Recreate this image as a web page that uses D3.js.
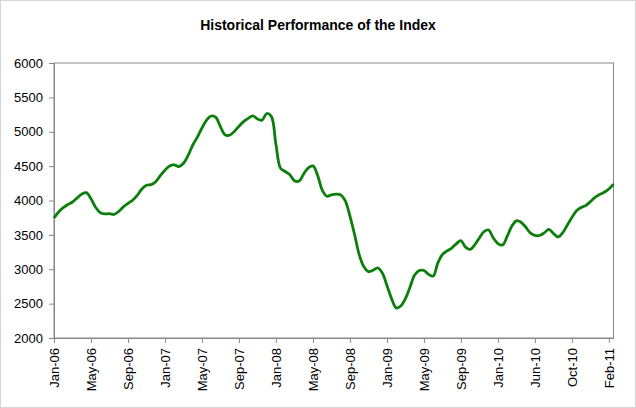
<!DOCTYPE html>
<html>
<head>
<meta charset="utf-8">
<title>Historical Performance of the Index</title>
<script src="https://cdn.jsdelivr.net/npm/d3@7/dist/d3.min.js"></script>
<style>
    body { margin: 0; background: #fff; }
    text { font-family: "Liberation Sans", Arial, sans-serif; fill: #000; }
    .title { font-size: 14px; font-weight: bold; }
    .tick text { font-size: 13px; }
    .axis path, .axis line { stroke: #888; }
</style>
</head>
<body>
<div id="chart"></div>
<script>
// category labels, one every 8 points
const tickLabels = ["Jan-06", "May-06", "Sep-06", "Jan-07", "May-07", "Sep-07", "Jan-08", "May-08",
                    "Sep-08", "Jan-09", "May-09", "Sep-09", "Jan-10", "Jun-10", "Oct-10", "Feb-11"];
const pointsPerLabel = 8;

// index level
const indexValues = [
    3745, 3833, 3895, 3941, 3978, 4038, 4093, 4115,
    4025, 3902, 3823, 3805, 3809, 3798, 3842, 3908,
    3959, 4004, 4074, 4168, 4222, 4230, 4272, 4363,
    4441, 4503, 4518, 4492, 4541, 4656, 4804, 4921,
    5055, 5170, 5229, 5210, 5073, 4955, 4950, 5005,
    5080, 5147, 5194, 5232, 5186, 5169, 5265, 5224,
    4815, 4468, 4422, 4376, 4288, 4282, 4386, 4476,
    4503, 4368, 4153, 4062, 4082, 4092, 4082, 3996,
    3773, 3507, 3214, 3039, 2965, 2985, 3019, 2945,
    2765, 2573, 2438, 2466, 2572, 2743, 2915, 2981,
    2982, 2925, 2900, 3089, 3214, 3266, 3308, 3370,
    3417, 3321, 3289, 3356, 3455, 3548, 3571, 3455,
    3374, 3352, 3477, 3627, 3705, 3684, 3614, 3530,
    3493, 3491, 3528, 3579, 3523, 3469, 3530, 3641,
    3752, 3851, 3899, 3927, 3984, 4044, 4086, 4120,
    4167, 4238
];

const yTicks = [2000, 2500, 3000, 3500, 4000, 4500, 5000, 5500, 6000];

const width = 636, height = 408;
const plot = { left: 54, right: 613.5, top: 63, bottom: 338 };

const svg = d3.select("#chart").append("svg")
    .attr("width", width)
    .attr("height", height);

// chart area border
svg.append("rect")
    .attr("x", 0.5).attr("y", 0.5)
    .attr("width", width - 1).attr("height", height - 1)
    .attr("fill", "#fff")
    .attr("stroke", "#d4d4d4");

svg.append("text")
    .attr("class", "title")
    .attr("x", 318)
    .attr("y", 30)
    .attr("text-anchor", "middle")
    .text("Historical Performance of the Index");

const x = d3.scaleLinear()
    .domain([0, indexValues.length - 1])
    .range([plot.left, plot.right]);

const y = d3.scaleLinear()
    .domain([2000, 6000])
    .range([plot.bottom, plot.top]);

// plot frame
svg.append("rect")
    .attr("x", plot.left).attr("y", plot.top)
    .attr("width", plot.right - plot.left)
    .attr("height", plot.bottom - plot.top)
    .attr("fill", "none")
    .attr("stroke", "#888");

svg.append("g")
    .attr("class", "axis")
    .attr("transform", `translate(${plot.left},0)`)
    .call(d3.axisLeft(y).tickValues(yTicks).tickFormat(d3.format("d"))
        .tickSize(5).tickSizeOuter(0).tickPadding(6))
    .call(g => g.selectAll("text").attr("fill", "#000"));

svg.append("g")
    .attr("class", "axis")
    .attr("transform", `translate(0,${plot.bottom})`)
    .call(d3.axisBottom(x)
        .tickValues(tickLabels.map((_, i) => i * pointsPerLabel))
        .tickFormat((d, i) => tickLabels[i])
        .tickSize(5)
        .tickSizeOuter(0))
    .call(g => g.selectAll("text")
        .attr("fill", "#000")
        .attr("transform", "rotate(-90)")
        .attr("text-anchor", "end")
        .attr("x", -10)
        .attr("y", 0)
        .attr("dy", "0.35em"));

const line = d3.line()
    .x((d, i) => x(i))
    .y(d => y(d))
    .curve(d3.curveCatmullRom.alpha(0.5));

svg.append("path")
    .datum(indexValues)
    .attr("fill", "none")
    .attr("stroke", "#0b7f0b")
    .attr("stroke-width", 2.8)
    .attr("stroke-linejoin", "round")
    .attr("d", line);
</script>
</body>
</html>
